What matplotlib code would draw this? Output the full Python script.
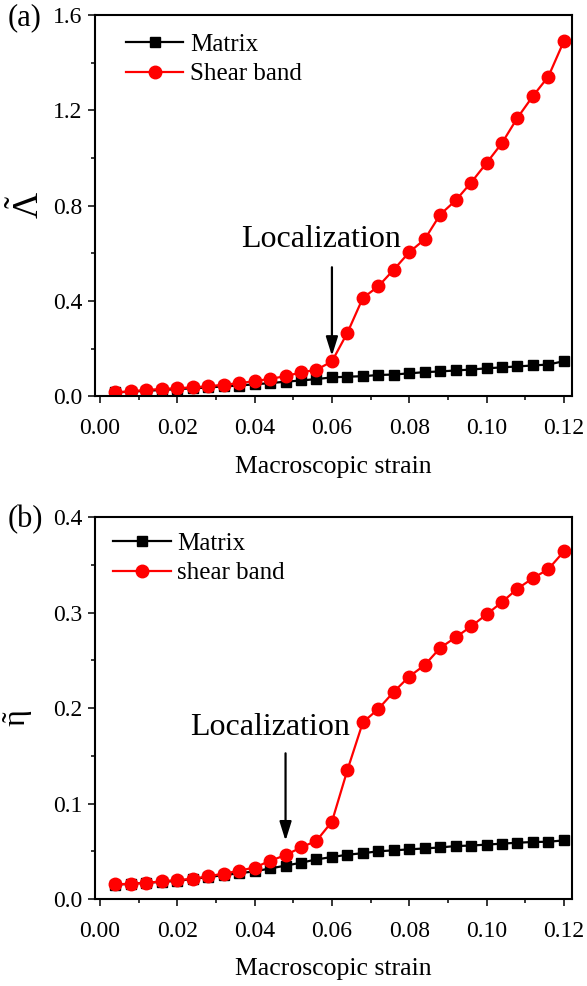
import numpy as np
import matplotlib
matplotlib.use('Agg')
import matplotlib.pyplot as plt
from matplotlib.ticker import MultipleLocator

plt.rcParams['font.family'] = ['Liberation Serif', 'DejaVu Serif']
plt.rcParams['mathtext.fontset'] = 'custom'
plt.rcParams['mathtext.rm'] = 'Liberation Serif'
plt.rcParams['mathtext.it'] = 'Liberation Serif:italic'

# macroscopic strain steps
strain = [0.004, 0.008, 0.012, 0.016, 0.020, 0.024, 0.028, 0.032, 0.036, 0.040,
          0.044, 0.048, 0.052, 0.056, 0.060, 0.064, 0.068, 0.072, 0.076, 0.080,
          0.084, 0.088, 0.092, 0.096, 0.100, 0.104, 0.108, 0.112, 0.116, 0.120]

# (a) Lambda tilde
lam_matrix = [0.017, 0.020, 0.024, 0.027, 0.031, 0.034, 0.038, 0.042, 0.046, 0.051,
              0.056, 0.062, 0.067, 0.073, 0.080, 0.083, 0.085, 0.090, 0.092, 0.097,
              0.102, 0.105, 0.109, 0.113, 0.118, 0.122, 0.126, 0.130, 0.134, 0.148]
lam_band = [0.018, 0.021, 0.028, 0.031, 0.035, 0.038, 0.043, 0.049, 0.056, 0.064,
            0.074, 0.085, 0.101, 0.112, 0.147, 0.267, 0.413, 0.462, 0.532, 0.605,
            0.659, 0.763, 0.822, 0.897, 0.979, 1.063, 1.169, 1.260, 1.342, 1.490]

# (b) eta tilde
eta_matrix = [0.015, 0.016, 0.017, 0.018, 0.019, 0.021, 0.023, 0.025, 0.027, 0.029,
              0.032, 0.035, 0.038, 0.0415, 0.044, 0.0464, 0.048, 0.050, 0.051, 0.052,
              0.053, 0.054, 0.0555, 0.056, 0.057, 0.058, 0.059, 0.0597, 0.060, 0.0614]
eta_band = [0.0154, 0.016, 0.017, 0.0185, 0.020, 0.021, 0.024, 0.0265, 0.0297, 0.033,
            0.040, 0.046, 0.054, 0.061, 0.081, 0.135, 0.185, 0.199, 0.217, 0.233,
            0.245, 0.263, 0.274, 0.2855, 0.298, 0.311, 0.325, 0.336, 0.3455, 0.364]

W, H = 587, 986
fig = plt.figure(figsize=(W/100, H/100), dpi=100)
ax1 = fig.add_axes([0.1618, 0.5979, 0.8126, 0.3869])
ax2 = fig.add_axes([0.1618, 0.0882, 0.8126, 0.3874])

def px(x, y):
    # pixel position (from top-left) -> figure fraction
    return x/W, 1 - y/H

def style(ax, ymax, ymaj, ymin):
    ax.set_xlim(-0.0013, 0.1221)
    ax.set_ylim(0, ymax)
    ax.xaxis.set_major_locator(MultipleLocator(0.02))
    ax.xaxis.set_minor_locator(MultipleLocator(0.01))
    ax.yaxis.set_major_locator(MultipleLocator(ymaj))
    ax.yaxis.set_minor_locator(MultipleLocator(ymin))
    ax.yaxis.set_major_formatter(plt.FormatStrFormatter('%.1f'))
    ax.tick_params(which='both', direction='out', width=1.1, top=False, right=False)
    ax.tick_params(which='major', length=5, labelsize=17)
    ax.tick_params(which='minor', length=3)
    ax.tick_params(axis='x', pad=10.5)
    ax.tick_params(axis='y', pad=4)
    for s in ax.spines.values():
        s.set_linewidth(1.5)
    ax.set_xlabel('Macroscopic strain', fontsize=18.5)
    ax.xaxis.set_label_coords(0.5, -0.155)

def arrow(ax, x, y0, y1):
    ax.annotate('', xy=(x, y1), xytext=(x, y0),
                arrowprops=dict(arrowstyle='-|>,head_length=1.15,head_width=0.36',
                                color='k', lw=1.6, mutation_scale=10, shrinkA=0, shrinkB=0))

leg_kw = dict(loc='upper left', frameon=False, fontsize=18, handlelength=2.3,
              handletextpad=0.25, labelspacing=0.27, borderpad=0, borderaxespad=0)

# panel (a)
ax1.plot(strain, lam_matrix, '-s', color='k', lw=1.6, ms=7.5, label='Matrix')
ax1.plot(strain, lam_band, '-o', color='#ff0000', lw=1.6, ms=9, label='Shear band')
style(ax1, 1.6, 0.4, 0.2)
ax1.legend(bbox_to_anchor=(0.065, 0.951), **leg_kw)
arrow(ax1, 0.06, 0.542, 0.17)
ax1.text(0.0366, 0.628, 'Localization', fontsize=23, ha='left', va='baseline')
fig.text(*px(39, 205), r'$\tilde{\Lambda}$', fontsize=26, rotation=90,
         rotation_mode='anchor', ha='center', va='baseline')

# panel (b)
ax2.plot(strain, eta_matrix, '-s', color='k', lw=1.6, ms=7.5, label='Matrix')
ax2.plot(strain, eta_band, '-o', color='#ff0000', lw=1.6, ms=9, label='shear band')
style(ax2, 0.4, 0.1, 0.05)
ax2.legend(bbox_to_anchor=(0.038, 0.959), **leg_kw)
arrow(ax2, 0.048, 0.1526, 0.061)
ax2.text(0.0232, 0.1717, 'Localization', fontsize=23, ha='left', va='baseline')
fig.text(*px(26, 718), r'$\tilde{\mathrm{\eta}}$', fontsize=23, rotation=90,
         rotation_mode='anchor', ha='center', va='baseline')

fig.text(*px(8, 25), '(a)', fontsize=22, ha='left', va='baseline')
fig.text(*px(8, 527), '(b)', fontsize=22, ha='left', va='baseline')

fig.savefig('out.png', dpi=100)
